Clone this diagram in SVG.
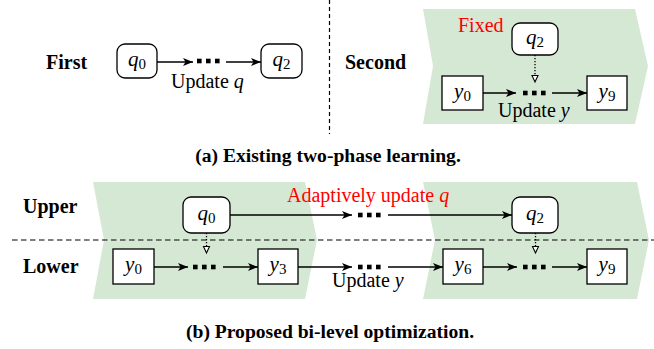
<svg xmlns="http://www.w3.org/2000/svg" width="654" height="349" viewBox="0 0 654 349">
<defs>
<style>
.bg{fill:#d5e8d4;stroke:none}
.nd{fill:#fff;stroke:#000;stroke-width:1.3}
.ndr{fill:#fff;stroke:#000;stroke-width:1.3}
.arr{fill:none;stroke:#000;stroke-width:1.3;marker-end:url(#ah)}
.dot{fill:none;stroke:#000;stroke-width:1.3;stroke-dasharray:1.3 1.7;marker-end:url(#oh)}
.sep{fill:none;stroke:#000;stroke-width:1.2}
.lbl{font-weight:bold;font-size:20px;fill:#000}
.cap{font-weight:bold;font-size:19.6px;fill:#000;text-anchor:middle}
.txt{font-size:20px;fill:#000}
.red{fill:#ff0000}
.m{font-size:21px;font-style:italic;fill:#000;text-anchor:middle}
.sub{font-style:normal;font-size:15px}
.it{font-style:italic}
.dots{fill:#000}
</style>
<marker id="ah" markerUnits="userSpaceOnUse" markerWidth="10" markerHeight="8" refX="10" refY="4" orient="auto" overflow="visible">
<path d="M0,0 L10,4 L0,8 L2.5,4 z" fill="#000"/>
</marker>
<marker id="oh" markerUnits="userSpaceOnUse" markerWidth="8" markerHeight="7" refX="7" refY="3.5" orient="auto" overflow="visible">
<path d="M0.5,0.5 L7,3.5 L0.5,6.5 z" fill="#fff" stroke="#000" stroke-width="1.1"/>
</marker>
<g id="d3">
<rect x="0" y="-2.3" width="4.6" height="4.6"/>
<rect x="9" y="-2.3" width="4.6" height="4.6"/>
<rect x="18" y="-2.3" width="4.6" height="4.6"/>
</g>
</defs>

<!-- backgrounds -->
<g id="bgs">
<polygon class="bg" points="423,9 635,9 648,66 635,124 423,124 433,66"/>
<polygon class="bg" points="93,182 305,182 317,240 305,299 93,299 104,240"/>
<polygon class="bg" points="423,182 637,182 649,240 637,299 423,299 435,240"/>
</g>

<!-- separators -->
<g id="separators">
<line class="sep" x1="329.5" y1="0" x2="329.5" y2="134" stroke-dasharray="4 3"/>
<line class="sep" x1="12" y1="240" x2="654" y2="240" stroke-dasharray="5.5 3.5"/>
</g>

<g font-family="'Liberation Serif', 'Times New Roman', 'DejaVu Serif', serif">
<!-- labels -->
<g id="labels">
<text class="lbl" x="46" y="69">First</text>
<text class="lbl" x="345" y="69">Second</text>
<text class="lbl" x="23" y="213">Upper</text>
<text class="lbl" x="23" y="273">Lower</text>
<text class="txt red" x="458" y="32">Fixed</text>
<text class="txt" x="171" y="88">Update <tspan class="it">q</tspan></text>
<text class="txt" x="498" y="117">Update <tspan class="it">y</tspan></text>
<text class="txt red" x="287" y="202">Adaptively update <tspan class="it">q</tspan></text>
<text class="txt" x="332" y="287">Update <tspan class="it">y</tspan></text>
<text class="cap" x="328" y="162">(a) Existing two-phase learning.</text>
<text class="cap" x="330" y="338">(b) Proposed bi-level optimization.</text>
</g>

<!-- connectors -->
<g id="connectors">
<line class="arr" x1="157" y1="62" x2="193" y2="62"/>
<use href="#d3" class="dots" x="197" y="61"/>
<line class="arr" x1="226" y1="62" x2="261" y2="62"/>

<line class="dot" x1="535" y1="55" x2="535" y2="82"/>
<line class="arr" x1="483" y1="93" x2="516" y2="93"/>
<use href="#d3" class="dots" x="523" y="93"/>
<line class="arr" x1="552" y1="93" x2="587" y2="93"/>

<line class="arr" x1="230" y1="215" x2="352" y2="215"/>
<use href="#d3" class="dots" x="358" y="215"/>
<line class="arr" x1="388" y1="215" x2="512" y2="215"/>

<line class="dot" x1="206.5" y1="233" x2="206.5" y2="253"/>
<line class="dot" x1="535.5" y1="233" x2="535.5" y2="253"/>

<line class="arr" x1="154" y1="267" x2="188" y2="267"/>
<use href="#d3" class="dots" x="193" y="267"/>
<line class="arr" x1="223" y1="267" x2="258" y2="267"/>
<line class="arr" x1="298" y1="267" x2="352" y2="267"/>
<use href="#d3" class="dots" x="358" y="267"/>
<line class="arr" x1="388" y1="267" x2="443" y2="267"/>
<line class="arr" x1="483" y1="267" x2="517" y2="267"/>
<use href="#d3" class="dots" x="523" y="267"/>
<line class="arr" x1="552" y1="267" x2="587" y2="267"/>
</g>

<!-- nodes -->
<g id="a-q0"><rect class="ndr" x="117" y="44" width="40" height="34" rx="8"/><text class="m" x="137" y="66">q<tspan class="sub" dy="3">0</tspan></text></g>
<g id="a-q2"><rect class="ndr" x="261" y="44" width="41" height="34" rx="8"/><text class="m" x="281.5" y="66">q<tspan class="sub" dy="3">2</tspan></text></g>
<g id="a-q2fixed"><rect class="ndr" x="512" y="23" width="46" height="32" rx="8"/><text class="m red" x="535" y="44">q<tspan class="sub" dy="3">2</tspan></text></g>
<g id="a-y0"><rect class="nd" x="442" y="76" width="41" height="34"/><text class="m" x="462.5" y="98">y<tspan class="sub" dy="3">0</tspan></text></g>
<g id="a-y9"><rect class="nd" x="587" y="76" width="40" height="34"/><text class="m" x="607" y="98">y<tspan class="sub" dy="3">9</tspan></text></g>

<g id="b-q0"><rect class="ndr" x="183" y="197" width="47" height="36" rx="8"/><text class="m" x="206.5" y="220">q<tspan class="sub" dy="3">0</tspan></text></g>
<g id="b-q2"><rect class="ndr" x="512" y="197" width="46" height="36" rx="8"/><text class="m" x="535" y="220">q<tspan class="sub" dy="3">2</tspan></text></g>
<g id="b-y0"><rect class="nd" x="113" y="249" width="41" height="35"/><text class="m" x="133.5" y="271">y<tspan class="sub" dy="3">0</tspan></text></g>
<g id="b-y3"><rect class="nd" x="258" y="249" width="40" height="35"/><text class="m" x="278" y="271">y<tspan class="sub" dy="3">3</tspan></text></g>
<g id="b-y6"><rect class="nd" x="443" y="249" width="40" height="35"/><text class="m" x="463" y="271">y<tspan class="sub" dy="3">6</tspan></text></g>
<g id="b-y9"><rect class="nd" x="587" y="249" width="40" height="35"/><text class="m" x="607" y="271">y<tspan class="sub" dy="3">9</tspan></text></g>
</g>
</svg>
